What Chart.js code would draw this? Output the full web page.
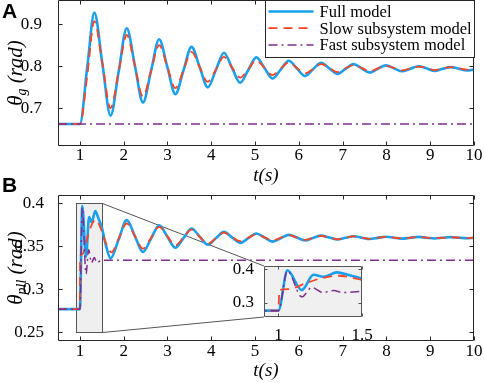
<!DOCTYPE html>
<html>
<head>
<meta charset="utf-8">
<script src="https://cdn.jsdelivr.net/npm/chart.js@4.4.0/dist/chart.umd.min.js"></script>
<style>
  html, body { margin: 0; padding: 0; background: #fff; }
  #wrap { position: relative; width: 484px; height: 383px; overflow: hidden; }
  canvas { position: absolute; }
</style>
</head>
<body>
<div id="wrap">
  <canvas id="chartA" width="484" height="190" style="left:0;top:0"></canvas>
  <canvas id="chartB" width="484" height="208" style="left:0;top:175px"></canvas>
  <canvas id="chartInset" width="150" height="100" style="left:224px;top:256px"></canvas>
</div>
<script>
const SERIF = '"Liberation Serif", "Times New Roman", serif';
const BLUE = '#18a0ee', RED = '#fb4522', PURPLE = '#7e2f8e';

// panel A: theta_g
const timeA = [0.5, 1.0, 1.17, 1.33, 1.515, 1.7, 1.885, 2.07, 2.255, 2.44, 2.625, 2.81, 2.995, 3.18, 3.365, 3.55,
  3.735, 3.92, 4.105, 4.29, 4.475, 4.66, 4.845, 5.03, 5.215, 5.4, 5.585, 5.77, 5.955, 6.14, 6.325, 6.51, 6.695,
  6.88, 7.065, 7.25, 7.435, 7.62, 7.805, 7.99, 8.175, 8.36, 8.545, 8.73, 8.915, 9.1, 9.285, 9.47, 9.655, 9.84, 10];
const fullA = [0.663, 0.663, 0.80, 0.927, 0.805, 0.683, 0.787, 0.890, 0.802, 0.714, 0.789, 0.864, 0.799, 0.734, 0.790, 0.846,
  0.798, 0.750, 0.791, 0.832, 0.796, 0.761, 0.791, 0.821, 0.796, 0.771, 0.792, 0.813, 0.795, 0.777, 0.793, 0.808, 0.795,
  0.782, 0.794, 0.805, 0.795, 0.785, 0.794, 0.802, 0.795, 0.788, 0.794, 0.800, 0.795, 0.789, 0.794, 0.798, 0.794, 0.790, 0.792];
const slowA = [0.663, 0.663, 0.78, 0.907, 0.805, 0.701, 0.787, 0.874, 0.801, 0.728, 0.789, 0.850, 0.799, 0.748, 0.791, 0.834,
  0.798, 0.763, 0.792, 0.822, 0.797, 0.773, 0.793, 0.814, 0.796, 0.779, 0.794, 0.809, 0.796, 0.783, 0.794, 0.805, 0.796,
  0.786, 0.795, 0.803, 0.796, 0.788, 0.795, 0.801, 0.796, 0.790, 0.795, 0.799, 0.796, 0.791, 0.795, 0.798, 0.795, 0.792, 0.794];
const timeFastA = [0.5, 10];
const fastA = [0.663, 0.663];

// panel B: theta_pll
const timeFullB = [0.5, 1.0, 1.054, 1.14, 1.21, 1.27, 1.35, 1.42, 1.5, 1.6, 1.7,
  1.885, 2.07, 2.255, 2.44, 2.625, 2.81, 2.995, 3.18, 3.365, 3.55, 3.735, 3.92, 4.105, 4.29, 4.475, 4.66, 4.845,
  5.03, 5.215, 5.4, 5.585, 5.77, 5.955, 6.14, 6.325, 6.51, 6.695, 6.88, 7.065, 7.25, 7.435, 7.62, 7.805, 7.99,
  8.175, 8.36, 8.545, 8.73, 8.915, 9.1, 9.285, 9.47, 9.655, 9.84, 10];
const fullB = [0.277, 0.277, 0.397, 0.338, 0.384, 0.378, 0.391, 0.383, 0.372, 0.350, 0.336,
  0.358, 0.3805, 0.362, 0.3434, 0.359, 0.3746, 0.3615, 0.3484, 0.3595, 0.3707, 0.3613, 0.352, 0.3594, 0.3668, 0.3604, 0.354, 0.3595,
  0.365, 0.3603, 0.3555, 0.3594, 0.3633, 0.3602, 0.357, 0.3598, 0.3625, 0.3602, 0.358, 0.3599, 0.3618, 0.3601, 0.3585, 0.3599, 0.3612,
  0.3601, 0.359, 0.360, 0.361, 0.3601, 0.3592, 0.360, 0.3607, 0.3601, 0.3595, 0.360];
const timeSlowB = [0.5, 1.0, 1.006, 1.06, 1.16, 1.26, 1.36, 1.5, 1.6, 1.72,
  1.885, 2.07, 2.255, 2.44, 2.625, 2.81, 2.995, 3.18, 3.365, 3.55, 3.735, 3.92, 4.105, 4.29, 4.475, 4.66, 4.845,
  5.03, 5.215, 5.4, 5.585, 5.77, 5.955, 6.14, 6.325, 6.51, 6.695, 6.88, 7.065, 7.25, 7.435, 7.62, 7.805, 7.99,
  8.175, 8.36, 8.545, 8.73, 8.915, 9.1, 9.285, 9.47, 9.655, 9.84, 10];
const slowB = [0.277, 0.277, 0.338, 0.341, 0.358, 0.374, 0.381, 0.368, 0.353, 0.343,
  0.359, 0.3766, 0.362, 0.3473, 0.360, 0.3727, 0.3618, 0.351, 0.3603, 0.3695, 0.3612, 0.353, 0.3595, 0.366, 0.361, 0.356, 0.360,
  0.364, 0.3605, 0.357, 0.360, 0.363, 0.3602, 0.3575, 0.360, 0.3622, 0.3601, 0.3582, 0.360, 0.3616, 0.3601, 0.3587, 0.360, 0.361,
  0.3601, 0.3592, 0.360, 0.3608, 0.3601, 0.3594, 0.360, 0.3606, 0.3601, 0.3596, 0.360];
const timeFastB = [0.5, 1.0, 1.054, 1.14, 1.2, 1.265, 1.33, 1.385, 1.5, 10];
const fastB = [0.277, 0.277, 0.395, 0.318, 0.346, 0.331, 0.337, 0.331, 0.334, 0.334];

// ticks and the zoomed window
const xTicks = [1, 2, 3, 4, 5, 6, 7, 8, 9, 10];
const yTicksA = [0.7, 0.8, 0.9];
const yTicksB = [0.25, 0.3, 0.35, 0.4];
const xTicksInset = [1, 1.5];
const yTicksInset = [0.3, 0.4];
const zoomBox = { x0: 0.9, x1: 1.5, y0: 0.25, y1: 0.4 };

function pts(t, v) {
  return t.map((x, i) => ({ x: x, y: v[i] }));
}

function makeSets(tf, f, ts, s, tq, q) {
  const common = { pointRadius: 0, fill: false, cubicInterpolationMode: 'monotone' };
  return [
    Object.assign({ label: 'Full model', data: pts(tf, f), borderColor: BLUE, borderWidth: 2.6, order: 3 }, common),
    Object.assign({ label: 'Slow subsystem model', data: pts(ts, s), borderColor: RED, borderWidth: 1.8, borderDash: [9, 6], order: 2 }, common),
    Object.assign({ label: 'Fast subsystem model', data: pts(tq, q), borderColor: PURPLE, borderWidth: 1.5, borderDash: [9, 4, 2, 4], order: 1 }, common)
  ];
}

function axes(xr, xt, yr, yt, xh, yw, xpad, ypad) {
  return {
    x: {
      type: 'linear', min: xr[0], max: xr[1],
      grid: { display: false }, border: { display: false },
      afterBuildTicks: s => { s.ticks = xt.map(v => ({ value: v })); },
      afterFit: s => { s.height = xh; s.paddingLeft = 0; s.paddingRight = 0; },
      ticks: { padding: xpad, maxRotation: 0, autoSkip: false, color: '#000', font: { family: SERIF, size: 17 }, callback: v => String(v) }
    },
    y: {
      type: 'linear', min: yr[0], max: yr[1],
      grid: { display: false }, border: { display: false },
      afterBuildTicks: s => { s.ticks = yt.map(v => ({ value: v })); },
      afterFit: s => { s.width = yw; s.paddingTop = 0; s.paddingBottom = 0; },
      ticks: { padding: ypad, color: '#000', font: { family: SERIF, size: 17 }, callback: v => String(v) }
    }
  };
}

// box + inward ticks, matlab style
const framePlugin = {
  id: 'frame',
  beforeDatasetsDraw(chart, args, o) {
    if (!o.bg) return;
    const a = chart.chartArea;
    chart.ctx.save();
    chart.ctx.fillStyle = o.bg;
    chart.ctx.fillRect(a.left, a.top, a.width, a.height);
    chart.ctx.restore();
  },
  afterDatasetsDraw(chart, args, o) {
    const ctx = chart.ctx, a = chart.chartArea, xs = chart.scales.x, ys = chart.scales.y;
    const len = o.tick || 4;
    const L = Math.round(a.left) + 0.5, R = Math.round(a.right) - 0.5;
    const T = Math.round(a.top) + 0.5, B = Math.round(a.bottom) - 0.5;
    ctx.save();
    ctx.strokeStyle = o.color || '#262626';
    ctx.lineWidth = 1;
    ctx.beginPath();
    xs.ticks.forEach(t => {
      const p = Math.round(xs.getPixelForValue(t.value)) + 0.5;
      ctx.moveTo(p, B); ctx.lineTo(p, B - len);
      ctx.moveTo(p, T); ctx.lineTo(p, T + len);
    });
    ys.ticks.forEach(t => {
      const p = Math.round(ys.getPixelForValue(t.value)) + 0.5;
      ctx.moveTo(L, p); ctx.lineTo(L + len, p);
      ctx.moveTo(R, p); ctx.lineTo(R - len, p);
    });
    ctx.rect(L, T, R - L, B - T);
    ctx.stroke();
    ctx.restore();
  }
};

const titlePlugin = {
  id: 'titles',
  afterDraw(chart, args, o) {
    if (!o.show) return;
    const ctx = chart.ctx, a = chart.chartArea;
    const big = 'italic 21px ' + SERIF, small = 'italic 14px ' + SERIF;
    ctx.save();
    ctx.fillStyle = '#000';
    ctx.textBaseline = 'alphabetic';
    ctx.font = 'italic 19px ' + SERIF;
    ctx.textAlign = 'center';
    ctx.fillText(o.xText, (a.left + a.right) / 2, o.xBase);
    ctx.font = big;
    const w1 = ctx.measureText(o.yMain).width, w3 = ctx.measureText(o.yRest).width;
    ctx.font = small;
    const w2 = ctx.measureText(o.ySub).width;
    ctx.translate(o.yBase, (a.top + a.bottom) / 2);
    ctx.rotate(-Math.PI / 2);
    ctx.textAlign = 'left';
    let x = -(w1 + w2 + w3) / 2;
    ctx.font = big; ctx.fillText(o.yMain, x, 0); x += w1;
    ctx.font = small; ctx.fillText(o.ySub, x, 4); x += w2;
    ctx.font = big; ctx.fillText(o.yRest, x, 0);
    ctx.restore();
    ctx.save();
    ctx.font = 'bold 21px "Liberation Sans", Arial, sans-serif';
    ctx.fillStyle = '#000';
    ctx.textBaseline = 'alphabetic';
    ctx.fillText(o.panel, 2, o.panelBase);
    ctx.restore();
  }
};

const legendPlugin = {
  id: 'boxLegend',
  afterDatasetsDraw(chart, args, o) {
    if (!o.show) return;
    const ctx = chart.ctx, a = chart.chartArea;
    const x0 = Math.round(a.right - o.width) + 0.5, y0 = Math.round(a.top) + 0.5;
    ctx.save();
    ctx.fillStyle = '#fff';
    ctx.fillRect(x0, y0, o.width, o.height);
    ctx.strokeStyle = '#262626';
    ctx.lineWidth = 1;
    ctx.strokeRect(x0, y0, o.width, o.height);
    ctx.font = '16.5px ' + SERIF;
    ctx.textBaseline = 'middle';
    chart.data.datasets.forEach((d, i) => {
      const y = y0 + o.first + i * o.step;
      ctx.strokeStyle = d.borderColor;
      ctx.lineWidth = d.borderWidth;
      ctx.setLineDash(d.borderDash || []);
      ctx.beginPath(); ctx.moveTo(x0 + 3, y); ctx.lineTo(x0 + 48, y); ctx.stroke();
      ctx.setLineDash([]);
      ctx.fillStyle = '#000';
      ctx.fillText(d.label, x0 + 54, y + 1);
    });
    ctx.restore();
  }
};

const zoomPlugin = {
  id: 'zoomBox',
  beforeDatasetsDraw(chart, args, o) {
    if (!o.inset) return;
    const ctx = chart.ctx, xs = chart.scales.x, ys = chart.scales.y;
    const l = Math.round(xs.getPixelForValue(zoomBox.x0)) + 0.5, r = Math.round(xs.getPixelForValue(zoomBox.x1)) + 0.5;
    const t = Math.round(ys.getPixelForValue(zoomBox.y1)) + 0.5, b = Math.round(ys.getPixelForValue(zoomBox.y0)) + 0.5;
    const ia = o.inset.chartArea;
    const il = ia.left + o.dx, it = ia.top + o.dy, ib = ia.bottom + o.dy;
    ctx.save();
    ctx.fillStyle = '#efefef';
    ctx.fillRect(l, t, r - l, b - t);
    ctx.strokeStyle = '#555';
    ctx.lineWidth = 1;
    ctx.strokeRect(l, t, r - l, b - t);
    ctx.beginPath();
    ctx.moveTo(r, t); ctx.lineTo(il, it);
    ctx.moveTo(r, b); ctx.lineTo(il, ib);
    ctx.stroke();
    ctx.restore();
  }
};

const plugins = [framePlugin, titlePlugin, legendPlugin, zoomPlugin];

function config(datasets, scales, pad, pluginOpts) {
  return {
    type: 'line',
    data: { datasets: datasets },
    plugins: plugins,
    options: {
      responsive: false, animation: false, events: [], devicePixelRatio: 1,
      layout: { padding: pad },
      plugins: Object.assign({ legend: { display: false }, tooltip: { enabled: false } }, pluginOpts),
      scales: scales
    }
  };
}

const inset = new Chart(document.getElementById('chartInset'), config(
  makeSets(timeFullB, fullB, timeSlowB, slowB, timeFastB, fastB),
  axes([0.914, 1.5], xTicksInset, [0.258, 0.41], yTicksInset, 39, 40, 0, 2),
  { left: 0, right: 12, top: 10, bottom: 0 },
  { frame: { bg: '#f0f0f0', color: '#555', tick: 3 } }
));

new Chart(document.getElementById('chartA'), config(
  makeSets(timeA, fullA, timeA, slowA, timeFastA, fastA),
  axes([0.5, 10], xTicks, [0.611, 0.957], yTicksA, 44, 58, -9, 8),
  { left: 0, right: 10, top: 0, bottom: 0 },
  {
    titles: { show: true, xText: 't(s)', xBase: 181, yMain: 'θ', ySub: 'g', yRest: ' (rad)', yBase: 22, panel: 'A', panelBase: 18 },
    boxLegend: { show: true, width: 209, height: 57, first: 11, step: 16.7 }
  }
));

new Chart(document.getElementById('chartB'), config(
  makeSets(timeFullB, fullB, timeSlowB, slowB, timeFastB, fastB),
  axes([0.5, 10], xTicks, [0.24, 0.4097], yTicksB, 42, 58, -8, 6),
  { left: 0, right: 10, top: 20, bottom: 0 },
  {
    titles: { show: true, xText: 't(s)', xBase: 201, yMain: 'θ', ySub: 'pll', yRest: ' (rad)', yBase: 22, panel: 'B', panelBase: 17 },
    zoomBox: { inset: inset, dx: 224, dy: 81 }
  }
));
</script>
</body>
</html>
